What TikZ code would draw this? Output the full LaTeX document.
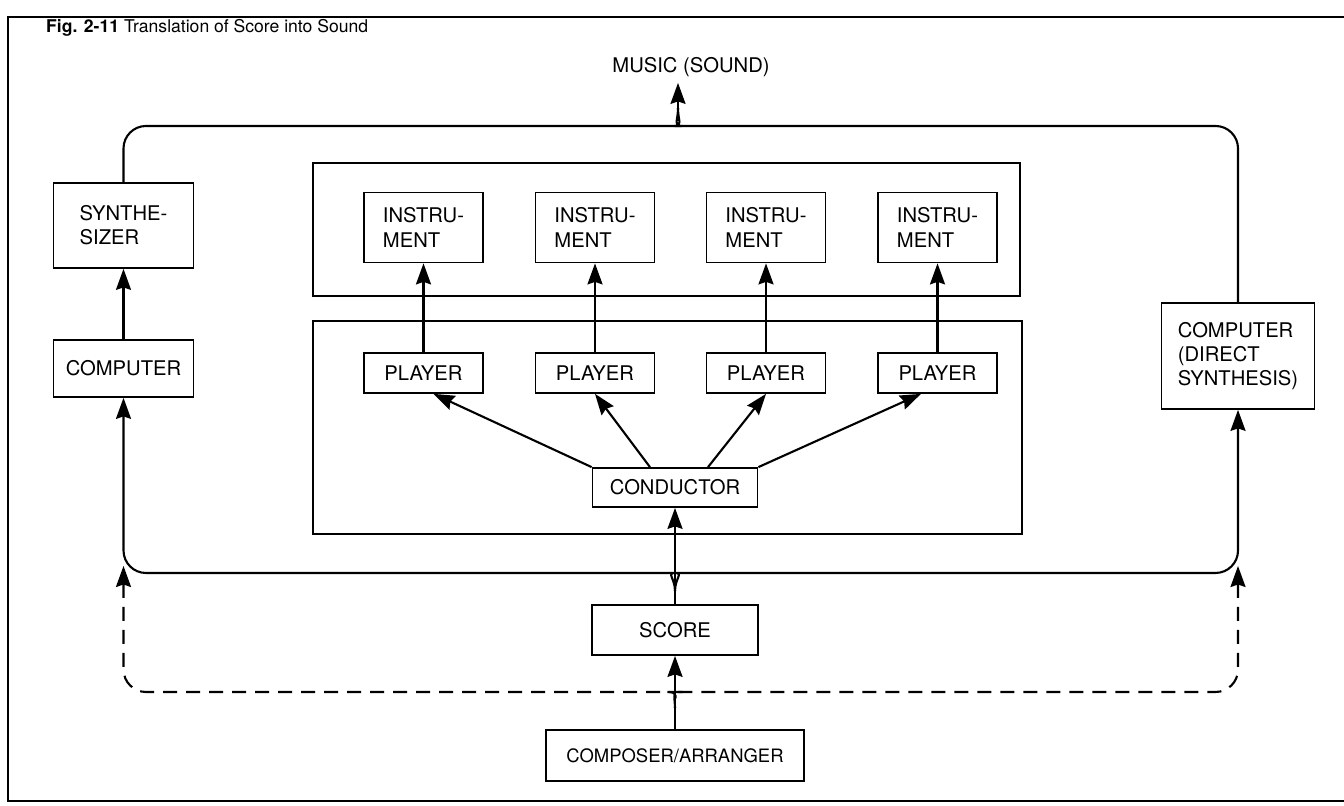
\documentclass[tikz,border=0pt]{standalone}
\usepackage{fontspec}
\setmainfont{TeX Gyre Heros}
\usetikzlibrary{arrows.meta,positioning,calc}
\tikzstyle{arrow} = [line width=1.2pt,->]
\tikzstyle{wire} = [line width=1.2pt, rounded corners=4.5mm]
\tikzstyle{dashwire} = [wire, dash pattern=on 2.8mm off 1.8mm]
\tikzstyle{blockbox} = [rectangle, draw, line width=1pt, align=center, inner sep=0pt, font=\fontsize{11.5}{13.8}\selectfont]
\tikzstyle{groupbox} = [draw, line width=0.7pt]

\begin{document}
\begin{tikzpicture}[>={Stealth[length=4.2mm,width=3mm,inset=0.5mm]}]
\useasboundingbox (0,0) rectangle (26.88,16.12);
% frame and caption
\draw[line width=0.8pt] (26.88,15.78) -- (0.16,15.78) -- (0.16,0.1) -- (26.88,0.1);
\node[anchor=west, font=\fontsize{10}{12}\selectfont] (title) at (0.8,15.56) {\textbf{Fig. 2-11} Translation of Score into Sound};
\node[font=\fontsize{11.5}{13.8}\selectfont] (music) at (13.82,14.78) {MUSIC (SOUND)};

% orchestra
\draw[groupbox] (6.26,12.86) rectangle (20.4,10.2);
\draw[groupbox] (6.26,9.7) rectangle (20.44,5.44);
\foreach \x [count=\i] in {8.47,11.9,15.32,18.75} {
  \node[blockbox, minimum width=2.38cm, minimum height=1.4cm, align=left] (inst\i) at (\x,11.57) {INSTRU-\\MENT};
  \node[blockbox, minimum width=2.38cm, minimum height=0.8cm] (player\i) at (\x,8.66) {PLAYER};
  \draw[arrow] (player\i) -- (inst\i);
}
\node[blockbox, minimum width=3.3cm, minimum height=0.78cm] (cond) at (13.5,6.37) {CONDUCTOR};
\draw[arrow] (cond.north west) -- ([xshift=2mm]player1.south);
\draw[arrow] ([xshift=-5mm]cond.north) -- (player2.south);
\draw[arrow] ([xshift=6.6mm]cond.north) -- (player3.south);
\draw[arrow] (cond.north east) -- ([xshift=-3.3mm]player4.south);

% electronic paths
\node[blockbox, minimum width=2.8cm, minimum height=1.7cm, align=left] (synth) at (2.47,11.61) {SYNTHE-\\SIZER};
\node[blockbox, minimum width=2.8cm, minimum height=1.14cm] (comp) at (2.47,8.75) {COMPUTER};
\node[blockbox, minimum width=3.06cm, minimum height=2.12cm, align=left] (direct) at (24.76,9.0) {COMPUTER\\(DIRECT\\SYNTHESIS)};
\draw[arrow] (comp) -- (synth);

% score and composer
\node[blockbox, minimum width=3.32cm, minimum height=1.0cm] (score) at (13.5,3.52) {SCORE};
\node[blockbox, minimum width=5.16cm, minimum height=1.02cm, font=\fontsize{10.5}{12.6}\selectfont] (composer) at (13.5,1.01) {COMPOSER/ARRANGER};
\draw[arrow] (composer.north) -- (score.south);
\draw[arrow] (score.north) -- (cond.south);

\coordinate (topjoin) at (13.56,13.96);
\coordinate (midjoin) at (13.5,4.3);
\coordinate (lowjoin) at (13.5,1.96);
\coordinate (lefttip) at (2.47,4.8);
\coordinate (righttip) at (24.76,4.8);

% sound out
\draw[wire] (synth.north) -- (2.47,13.6) -- (13.18,13.6) [sharp corners] .. controls (13.46,13.6) and (13.56,13.7) .. (topjoin);
\draw[wire] (direct.north) -- (24.76,13.6) -- (13.94,13.6) [sharp corners] .. controls (13.66,13.6) and (13.56,13.7) .. (topjoin);
\draw[arrow] (topjoin) -- (topjoin |- music.south);

% score to computers
\draw[wire,<-] (comp.south) -- (2.47,4.66) -- (13.06,4.66) [sharp corners] .. controls (13.32,4.66) and (13.5,4.56) .. (midjoin);
\draw[wire,<-] (direct.south) -- (24.76,4.66) -- (13.94,4.66) [sharp corners] .. controls (13.68,4.66) and (13.5,4.56) .. (midjoin);

% composer bypass
\draw[dashwire,<-] (lefttip) -- (2.47,2.28) -- (13.2,2.28) [sharp corners] .. controls (13.42,2.28) and (13.5,2.18) .. (lowjoin);
\draw[dashwire,<-] (righttip) -- (24.76,2.28) -- (13.8,2.28) [sharp corners] .. controls (13.58,2.28) and (13.5,2.18) .. (lowjoin);
\end{tikzpicture}
\end{document}
